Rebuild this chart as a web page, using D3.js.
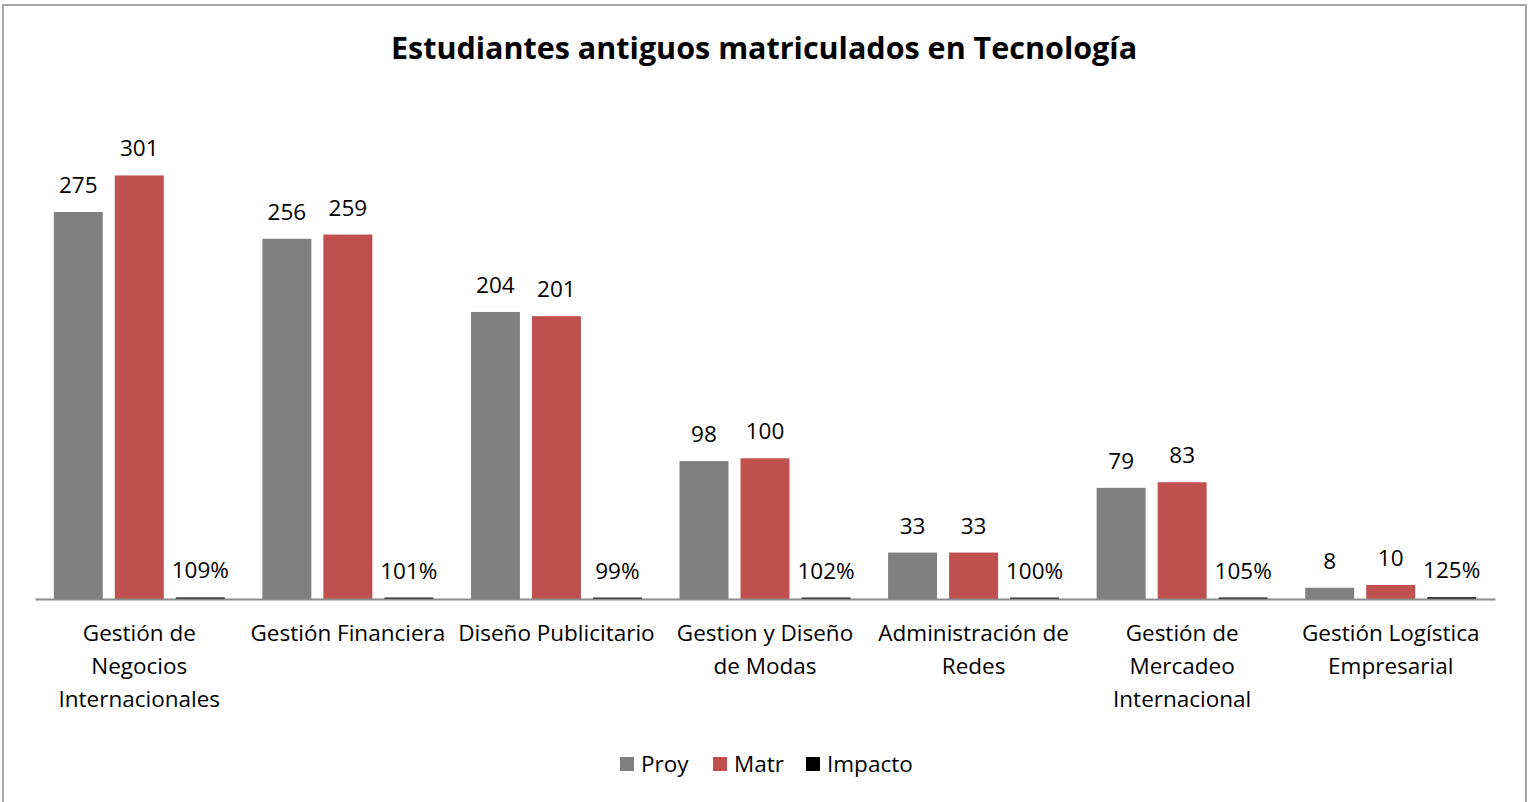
<!DOCTYPE html>
<html>
<head>
<meta charset="utf-8">
<script src="https://cdn.jsdelivr.net/npm/d3@7"></script>
<style>
  body { margin: 0; background: #fff; }
  text { font-family: "Open Sans", "Noto Sans", sans-serif; fill: #000; }
</style>
</head>
<body>
<div id="chart"></div>
<script>
// DATA
const categories = [
    "Gestión de\nNegocios\nInternacionales",
    "Gestión Financiera",
    "Diseño Publicitario",
    "Gestion y Diseño\nde Modas",
    "Administración de\nRedes",
    "Gestión de\nMercadeo\nInternacional",
    "Gestión Logística\nEmpresarial"
];
const seriesNames = ["Proy", "Matr", "Impacto"];
const proy = [275, 256, 204, 98, 33, 79, 8];
const matr = [301, 259, 201, 100, 33, 83, 10];
const impacto = [1.09, 1.01, 0.99, 1.02, 1.00, 1.05, 1.25];
const colors = ["#808080", "#C0504D", "#000000"];

const W = 1531, H = 802;
const axisLeftX = 35, axisRightX = 1495, baseY = 599;
const plotTop = 106.5;
const fs = "22.5px";

const svg = d3.select("#chart").append("svg")
    .attr("width", W)
    .attr("height", H);

// chart border
svg.append("rect")
    .attr("x", 3).attr("y", 5)
    .attr("width", 1523).attr("height", 810)
    .attr("fill", "none")
    .attr("stroke", "#a6a6a6")
    .attr("stroke-width", 2);

// title
svg.append("text")
    .attr("x", 764)
    .attr("y", 59)
    .attr("text-anchor", "middle")
    .style("font-size", "30.5px")
    .style("font-weight", "bold")
    .text("Estudiantes antiguos matriculados en Tecnología");

// scales
const x0 = d3.scaleBand()
    .domain(categories)
    .range([axisLeftX, axisRightX]);

const groupPad = (x0.bandwidth() - 171) / 2;
const x1 = d3.scaleBand()
    .domain(seriesNames)
    .range([groupPad, groupPad + 171])
    .paddingInner(0.197);

const y = d3.scaleLinear()
    .domain([0, 350])
    .range([baseY, plotTop]);

const rows = categories.map((c, i) => ({
    cat: c,
    vals: [
        { s: "Proy", v: proy[i], label: String(proy[i]) },
        { s: "Matr", v: matr[i], label: String(matr[i]) },
        { s: "Impacto", v: impacto[i], label: Math.round(impacto[i] * 100) + "%" }
    ]
}));

const color = d3.scaleOrdinal().domain(seriesNames).range(colors);

const groups = svg.selectAll(".grp")
    .data(rows)
    .enter()
    .append("g")
    .attr("class", "grp")
    .attr("transform", d => `translate(${x0(d.cat)},0)`);

groups.selectAll("rect")
    .data(d => d.vals)
    .enter()
    .append("rect")
    .attr("x", d => x1(d.s))
    .attr("y", d => y(d.v))
    .attr("width", x1.bandwidth())
    .attr("height", d => baseY - y(d.v))
    .attr("fill", d => color(d.s));

groups.selectAll(".lbl")
    .data(d => d.vals)
    .enter()
    .append("text")
    .attr("class", "lbl")
    .attr("x", d => x1(d.s) + x1.bandwidth() / 2)
    .attr("y", d => y(d.v) - 19)
    .attr("text-anchor", "middle")
    .style("font-size", fs)
    .text(d => d.label);

// category axis
const xAxis = svg.append("g")
    .attr("transform", `translate(0,${baseY})`)
    .call(d3.axisBottom(x0).tickSize(0).tickSizeOuter(0));

xAxis.select(".domain").attr("stroke", "#8c8c8c").attr("stroke-width", 2);

xAxis.selectAll(".tick text")
    .style("font-size", fs)
    .attr("fill", "#000")
    .each(function(d) {
        const t = d3.select(this);
        t.text(null).attr("y", 0).attr("dy", null);
        d.split("\n").forEach((line, i) => {
            t.append("tspan")
                .attr("x", 0)
                .attr("y", 42 + i * 33)
                .text(line);
        });
    });

// legend
const legendX = [620, 713, 806];
const legend = svg.selectAll(".legend")
    .data(seriesNames)
    .enter()
    .append("g")
    .attr("class", "legend")
    .attr("transform", (d, i) => `translate(${legendX[i]},757)`);

legend.append("rect")
    .attr("width", 14)
    .attr("height", 14)
    .attr("fill", d => color(d));

legend.append("text")
    .attr("x", 21)
    .attr("y", 15)
    .style("font-size", fs)
    .text(d => d);
</script>
</body>
</html>
